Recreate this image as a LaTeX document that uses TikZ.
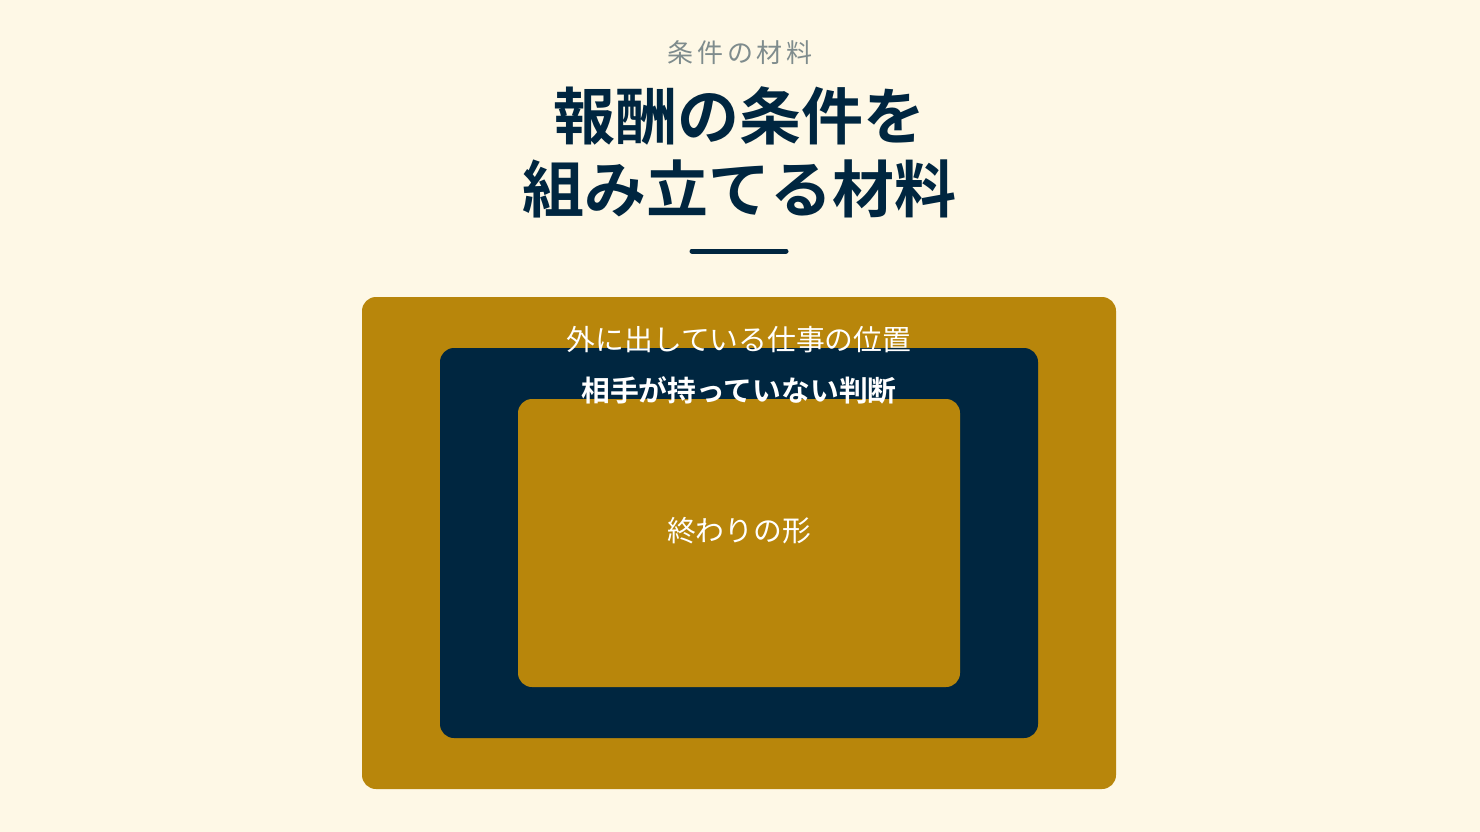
\documentclass[tikz,border=0pt]{standalone}
\usepackage{fontspec}
\setmainfont{Noto Sans CJK JP}
\newfontfamily\jpbold{Noto Sans CJK JP Bold}
\newfontfamily\jpspaced[LetterSpace=14]{Noto Sans CJK JP}
\definecolor{bgc}{HTML}{FEF8E6}
\definecolor{goldc}{HTML}{B8860B}
\definecolor{navyc}{HTML}{002640}
\definecolor{greyc}{HTML}{7F8C8D}
\tikzset{
  box/.style={rounded corners=14pt, draw=none},
  lbl/.style={text=white, font=\fontsize{28.8}{32}\selectfont, inner sep=0pt, anchor=center},
}
\begin{document}
\begin{tikzpicture}[x=1pt,y=-1pt]
\fill[bgc] (0,0) rectangle (1480,832);
\useasboundingbox (0,0) rectangle (1480,832);
\node[text=greyc, font=\jpspaced\fontsize{26}{30}\selectfont, inner sep=0pt] (sub) at (740,53) {条件の材料};
\node[text=navyc, font=\jpbold\fontsize{62}{73}\selectfont, align=center, inner sep=0pt] (title) at (739,152) {報酬の条件を\\組み立てる材料};
\draw[navyc, line width=5pt, line cap=round] (692,251) -- (786,251);
\fill[goldc, box] (362,297) rectangle (1116,789);
\fill[navyc, box] (440,348) rectangle (1038,738);
\fill[goldc, box] (518,399) rectangle (960,687);
\node[lbl] (outer) at (739,340) {外に出している仕事の位置};
\node[lbl, font=\jpbold\fontsize{28.8}{32}\selectfont] (mid) at (739,390) {相手が持っていない判断};
\node[lbl] (inner) at (739,531) {終わりの形};
\end{tikzpicture}
\end{document}
